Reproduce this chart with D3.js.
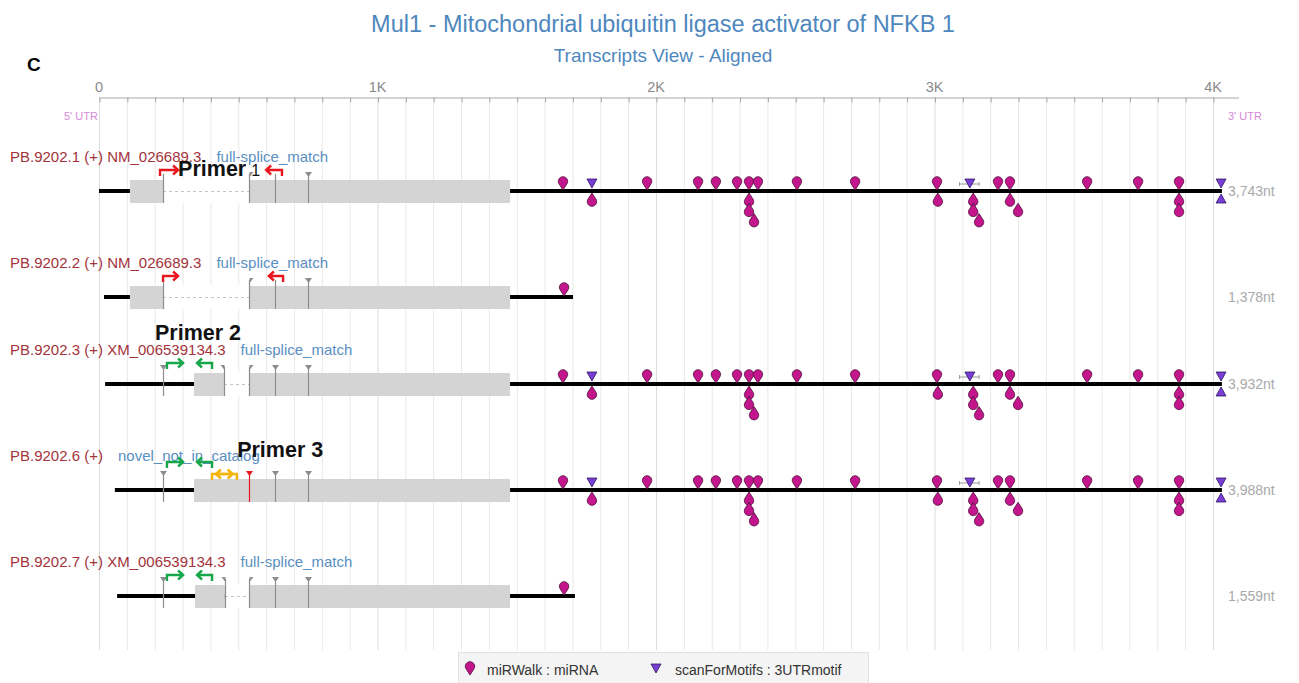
<!DOCTYPE html>
<html>
<head>
<meta charset="utf-8">
<script src="https://cdn.jsdelivr.net/npm/d3@7"></script>
<style>
	body { margin: 0; background: #fff; font-family: "Liberation Sans", Arial, sans-serif; }
	.grid line { stroke: #e8e8e8; stroke-width: 1; }
	.grid line.major { stroke: #dcdcdc; }
	.axis path, .axis line { stroke: #a8a8a8; }
	.axis text { fill: #8a8a8a; font-size: 14.5px; }
	.row-id { fill: #a3333a; font-size: 15px; }
	.row-cat { fill: #5a8fc2; font-size: 15px; }
	.len { fill: #a9a9a9; font-size: 14px; }
	.primer-label { font-weight: bold; font-size: 21.5px; fill: #111; }
</style>
</head>
<body>
<div id="graphic"></div>
<script>
// Globals
var WIDTH = 1299;
var HEIGHT = 683;

// Transcripts (one row each)
var TRANSCRIPTS = ['PB.9202.1', 'PB.9202.2', 'PB.9202.3', 'PB.9202.6', 'PB.9202.7'];
var REF_IDS = ['NM_026689.3', 'NM_026689.3', 'XM_006539134.3', '', 'XM_006539134.3'];
var CATEGORIES = ['full-splice_match', 'full-splice_match', 'full-splice_match', 'novel_not_in_catalog', 'full-splice_match'];
var LENGTHS = ['3,743nt', '1,378nt', '3,932nt', '3,988nt', '1,559nt'];

// Aligned coordinates (nt)
var TRACK_START = [0, 18, 22, 57, 65];
var TRACK_END = [4032, 1702, 4032, 4032, 1709];
var EXONS = [
	[[111, 230], [539, 1476]],
	[[111, 230], [539, 1476]],
	[[341, 449], [539, 1476]],
	[[341, 1476]],
	[[345, 452], [539, 1476]]
];
var JUNCTIONS = [
	[[230, 'plain'], [539, 'flag'], [632, 'plain'], [750, 'tri']],
	[[230, 'plain'], [539, 'flag'], [632, 'plain'], [750, 'tri']],
	[[230, 'tri'], [449, 'flagR'], [539, 'flag'], [632, 'tri'], [750, 'tri']],
	[[230, 'tri'], [539, 'novel'], [632, 'tri'], [750, 'tri']],
	[[230, 'tri'], [452, 'flagR'], [539, 'flag'], [632, 'tri'], [750, 'tri']]
];

// 3'UTR features: 'long' rows carry the full set, 'short' rows only the first miRNA
var ROW_UTR = ['long', 'short', 'long', 'long', 'short'];
var MIRNA_ABOVE = [1666, 1968, 2151, 2215, 2291, 2334, 2366, 2506, 2715, 3009, 3228, 3271, 3548, 3731, 3878];
var MIRNA_BELOW = [
	[1770, 1], [2334, 1], [2334, 2], [2352, 3], [3012, 1],
	[3139, 1], [3139, 2], [3160, 3], [3271, 1], [3300, 2], [3878, 1], [3878, 2]
];
var MIRNA_SHORT = [1670];
var MOTIFS_ABOVE = [1770, 3127, 4029];
var MOTIFS_BELOW = [4029];
var MOTIF_SPANS = [[3090, 3160]];

// Primers (lane: 0 normal, 1 raised, -1 lowered)
var PRIMERS = [
	{ row: 0, from: 219, to: 284, dir: 'f', color: 'red', lane: 0 },
	{ row: 0, from: 600, to: 657, dir: 'r', color: 'red', lane: 0 },
	{ row: 1, from: 230, to: 284, dir: 'f', color: 'red', lane: 0 },
	{ row: 1, from: 610, to: 661, dir: 'r', color: 'red', lane: 0 },
	{ row: 2, from: 244, to: 302, dir: 'f', color: 'green', lane: 0 },
	{ row: 2, from: 352, to: 406, dir: 'r', color: 'green', lane: 0 },
	{ row: 3, from: 244, to: 302, dir: 'f', color: 'green', lane: 1 },
	{ row: 3, from: 352, to: 406, dir: 'r', color: 'green', lane: 1 },
	{ row: 3, from: 406, to: 480, dir: 'f', color: 'orange', lane: -1 },
	{ row: 3, from: 420, to: 495, dir: 'r', color: 'orange', lane: -1 },
	{ row: 4, from: 244, to: 302, dir: 'f', color: 'green', lane: 0 },
	{ row: 4, from: 352, to: 406, dir: 'r', color: 'green', lane: 0 }
];
var PRIMER_LABELS = [
	{ row: 0, at: 284, big: 'Primer', small: '1', dy: -15 },
	{ row: 2, at: 201, big: 'Primer 2', small: '', dy: -44 },
	{ row: 3, at: 496, big: 'Primer 3', small: '', dy: -33 }
];

var AXIS_TICKS = [0, 1000, 2000, 3000, 4000];

var COLORS = {
	red: '#e8161e',
	green: '#17a64a',
	orange: '#f5b40c',
	mirna: '#c4168c',
	motif: '#7a3ed6'
};

function render() {
	var svg = d3.select('#graphic').append('svg')
		.attr('width', WIDTH)
		.attr('height', HEIGHT);

	var xScale = d3.scaleLinear()
		.domain([0, 4000])
		.range([99, 1213]);

	// Row centre lines: rows with markers below the line need more room
	var rowY = [];
	var y = 191;
	TRANSCRIPTS.forEach(function(t, i) {
		rowY.push(y);
		y += ROW_UTR[i] === 'long' ? 106 : 87;
	});

	// Title
	svg.append('text')
		.attr('x', 663).attr('y', 32)
		.attr('text-anchor', 'middle')
		.style('font-size', '23.5px').style('fill', '#4e87bd')
		.text('Mul1 - Mitochondrial ubiquitin ligase activator of NFKB 1');
	svg.append('text')
		.attr('x', 663).attr('y', 62)
		.attr('text-anchor', 'middle')
		.style('font-size', '19px').style('fill', '#4e87bd')
		.text('Transcripts View - Aligned');
	svg.append('text')
		.attr('x', 27).attr('y', 71)
		.style('font-size', '19px').style('font-weight', 'bold')
		.text('C');

	// Grid
	var gridTicks = d3.range(0, 4100, 100);
	svg.append('g').attr('class', 'grid')
		.selectAll('line').data(gridTicks).enter().append('line')
		.attr('class', function(d) { return d % 1000 === 0 ? 'major' : null; })
		.attr('x1', function(d) { return xScale(d) + 0.5; })
		.attr('x2', function(d) { return xScale(d) + 0.5; })
		.attr('y1', 97).attr('y2', 650);

	// Axis
	var axisScale = xScale.copy().domain([0, 4090]).range([xScale(0), xScale(4090)]);
	var axis = d3.axisBottom(axisScale)
		.tickValues(gridTicks)
		.tickSize(5)
		.tickSizeOuter(0)
		.tickFormat('');
	svg.append('g').attr('class', 'axis')
		.attr('transform', 'translate(0.5,97.5)')
		.call(axis);
	svg.append('g').attr('class', 'axis')
		.selectAll('text').data(AXIS_TICKS).enter().append('text')
		.attr('x', function(d) { return xScale(d); })
		.attr('y', 92)
		.attr('text-anchor', 'middle')
		.text(function(d) { return d === 0 ? '0' : (d / 1000) + 'K'; });

	svg.append('text').attr('x', 64).attr('y', 120)
		.style('font-size', '11px').style('fill', '#d68ad8').text("5' UTR");
	svg.append('text').attr('x', 1228).attr('y', 120)
		.style('font-size', '11px').style('fill', '#d68ad8').text("3' UTR");

	var pinPath = 'M0,0 L-4.2,-6.5 A4.7,4.7 0 1 1 4.2,-6.5 Z';

	TRANSCRIPTS.forEach(function(t, i) {
		var cy = rowY[i];
		var g = svg.append('g').attr('class', 'row');

		// labels
		var idText = g.append('text').attr('class', 'row-id')
			.attr('x', 10).attr('y', cy - 29)
			.text(t + ' (+)' + (REF_IDS[i] ? ' ' + REF_IDS[i] : ''));
		var w = idText.node().getComputedTextLength();
		g.append('text').attr('class', 'row-cat')
			.attr('x', 10 + w + 15).attr('y', cy - 29)
			.text(CATEGORIES[i]);

		// backbone
		g.append('line')
			.attr('x1', xScale(TRACK_START[i])).attr('x2', xScale(TRACK_END[i]))
			.attr('y1', cy).attr('y2', cy)
			.style('stroke', '#000').style('stroke-width', 4);

		// introns
		var ex = EXONS[i];
		for (var k = 1; k < ex.length; k++) {
			g.append('rect')
				.attr('x', xScale(ex[k - 1][1])).attr('y', cy - 12)
				.attr('width', xScale(ex[k][0]) - xScale(ex[k - 1][1])).attr('height', 24)
				.style('fill', '#fff');
			g.append('line')
				.attr('x1', xScale(ex[k - 1][1])).attr('x2', xScale(ex[k][0]))
				.attr('y1', cy + 0.5).attr('y2', cy + 0.5)
				.style('stroke', '#c4c4c4').style('stroke-dasharray', '3,3');
		}

		// exons
		g.selectAll('rect.exon').data(ex).enter().append('rect')
			.attr('class', 'exon')
			.attr('x', function(d) { return xScale(d[0]); })
			.attr('y', cy - 11)
			.attr('width', function(d) { return xScale(d[1]) - xScale(d[0]); })
			.attr('height', 23)
			.style('fill', '#d4d4d4');

		// junction markers
		JUNCTIONS[i].forEach(function(j) {
			var jx = Math.round(xScale(j[0])) + 0.5;
			var col = j[1] === 'novel' ? '#e8161e' : '#8c8c8c';
			g.append('line')
				.attr('x1', jx).attr('x2', jx)
				.attr('y1', cy - 17).attr('y2', cy + 12)
				.style('stroke', col).style('stroke-width', 1.2);
			var pts = null;
			if (j[1] === 'tri' || j[1] === 'novel') {
				pts = [[jx - 3.5, cy - 19], [jx + 3.5, cy - 19], [jx, cy - 14]];
			} else if (j[1] === 'flag') {
				pts = [[jx, cy - 19], [jx + 4, cy - 19], [jx, cy - 14]];
			} else if (j[1] === 'flagR') {
				pts = [[jx, cy - 19], [jx - 4, cy - 19], [jx, cy - 14]];
			}
			if (pts) {
				g.append('polygon')
					.attr('points', pts.map(function(p) { return p.join(','); }).join(' '))
					.style('fill', col);
			}
		});

		// 3'UTR features
		var above = ROW_UTR[i] === 'long' ? MIRNA_ABOVE : MIRNA_SHORT;
		var below = ROW_UTR[i] === 'long' ? MIRNA_BELOW : [];
		var motA = ROW_UTR[i] === 'long' ? MOTIFS_ABOVE : [];
		var motB = ROW_UTR[i] === 'long' ? MOTIFS_BELOW : [];
		var spans = ROW_UTR[i] === 'long' ? MOTIF_SPANS : [];

		g.selectAll('path.span').data(spans).enter().append('path')
			.attr('class', 'span')
			.attr('d', function(d) {
				var a = xScale(d[0]), b = xScale(d[1]), yy = cy - 7;
				return 'M' + a + ',' + yy + 'H' + b + 'M' + a + ',' + (yy - 2) + 'V' + (yy + 2) +
					'M' + b + ',' + (yy - 2) + 'V' + (yy + 2);
			})
			.style('stroke', '#9a9a9a').style('fill', 'none').style('stroke-width', 1);

		g.selectAll('path.pin-a').data(above).enter().append('path')
			.attr('class', 'pin-a')
			.attr('d', pinPath)
			.attr('transform', function(d) { return 'translate(' + xScale(d) + ',' + (cy - 1) + ')'; })
			.style('fill', COLORS.mirna).style('stroke', '#4d0f3a').style('stroke-width', 0.8);

		g.selectAll('path.pin-b').data(below).enter().append('path')
			.attr('class', 'pin-b')
			.attr('d', pinPath)
			.attr('transform', function(d) {
				return 'translate(' + xScale(d[0]) + ',' + (cy + 2 + (d[1] - 1) * 10.3) + ') scale(1,-1)';
			})
			.style('fill', COLORS.mirna).style('stroke', '#4d0f3a').style('stroke-width', 0.8);

		g.selectAll('polygon.mot-a').data(motA).enter().append('polygon')
			.attr('class', 'mot-a')
			.attr('points', function(d) {
				var mx = xScale(d);
				return [[mx - 5, cy - 12], [mx + 5, cy - 12], [mx, cy - 3]].join(' ');
			})
			.style('fill', COLORS.motif).style('stroke', '#2f1660').style('stroke-width', 0.8);

		g.selectAll('polygon.mot-b').data(motB).enter().append('polygon')
			.attr('class', 'mot-b')
			.attr('points', function(d) {
				var mx = xScale(d);
				return [[mx - 5, cy + 12], [mx + 5, cy + 12], [mx, cy + 3]].join(' ');
			})
			.style('fill', COLORS.motif).style('stroke', '#2f1660').style('stroke-width', 0.8);

		// length
		g.append('text').attr('class', 'len')
			.attr('x', 1228).attr('y', cy + 5)
			.text(LENGTHS[i]);
	});

	// Primer arrows
	var laneOffset = { '0': -21, '1': -28, '-1': -16 };
	svg.append('g').attr('class', 'primers')
		.selectAll('path').data(PRIMERS).enter().append('path')
		.attr('d', function(d) {
			var a = xScale(d.from), b = xScale(d.to);
			var ay = rowY[d.row] + laneOffset[d.lane];
			if (d.dir === 'f') {
				return 'M' + a + ',' + (ay + 6) + 'V' + ay + 'H' + b +
					'M' + (b - 5) + ',' + (ay - 4.5) + 'L' + b + ',' + ay + 'L' + (b - 5) + ',' + (ay + 4.5);
			}
			return 'M' + b + ',' + (ay + 6) + 'V' + ay + 'H' + a +
				'M' + (a + 5) + ',' + (ay - 4.5) + 'L' + a + ',' + ay + 'L' + (a + 5) + ',' + (ay + 4.5);
		})
		.style('fill', 'none')
		.style('stroke', function(d) { return COLORS[d.color]; })
		.style('stroke-width', 2.4);

	// Primer labels
	PRIMER_LABELS.forEach(function(p) {
		var txt = svg.append('text').attr('class', 'primer-label')
			.attr('x', xScale(p.at)).attr('y', rowY[p.row] + p.dy)
			.text(p.big);
		if (p.small) {
			txt.append('tspan').attr('dx', 5).style('font-size', '16px').style('font-weight', 'normal').text(p.small);
		}
	});

	// Legend
	var legend = svg.append('g').attr('class', 'legend');
	legend.append('rect')
		.attr('x', 458.5).attr('y', 652.5).attr('width', 410).attr('height', 34)
		.style('fill', '#f4f4f4').style('stroke', '#e2e2e2');
	legend.append('path')
		.attr('d', pinPath)
		.attr('transform', 'translate(470,675)')
		.style('fill', COLORS.mirna).style('stroke', '#4d0f3a').style('stroke-width', 0.8);
	legend.append('text').attr('x', 487).attr('y', 675)
		.style('font-size', '14px').style('fill', '#333').text('miRWalk : miRNA');
	legend.append('polygon')
		.attr('points', '651,664 661,664 656,673')
		.style('fill', COLORS.motif).style('stroke', '#2f1660').style('stroke-width', 0.8);
	legend.append('text').attr('x', 675).attr('y', 675)
		.style('font-size', '14px').style('fill', '#333').text('scanForMotifs : 3UTRmotif');
}

document.addEventListener('DOMContentLoaded', render);
</script>
</body>
</html>
